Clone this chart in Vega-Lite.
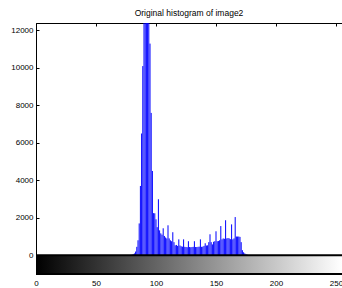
{
  "$schema": "https://vega.github.io/schema/vega-lite/v6.json",
  "width": 306,
  "height": 251,
  "autosize": {"type": "none"},
  "padding": {"left": 36, "top": 23, "right": 0, "bottom": 14},
  "background": "white",
  "title": {"text": "Original histogram of image2", "fontSize": 8.5, "font": "Liberation Sans", "fontWeight": "normal", "offset": 5, "color": "black"},
  "config": {
    "view": {"stroke": "black", "strokeWidth": 1},
    "axis": {"grid": false, "domainColor": "black", "tickColor": "black", "labelColor": "black", "labelFont": "Liberation Sans", "labelFontSize": 8, "tickSize": -3, "title": null}
  },
  "data": {"values": [
    {"v": 79, "count": 20}, {"v": 80, "count": 30}, {"v": 81, "count": 60}, {"v": 82, "count": 100}, {"v": 83, "count": 200},
    {"v": 84, "count": 450}, {"v": 85, "count": 800}, {"v": 86, "count": 1700}, {"v": 87, "count": 3700}, {"v": 88, "count": 6500},
    {"v": 89, "count": 10100}, {"v": 90, "count": 14000}, {"v": 91, "count": 15000}, {"v": 92, "count": 16000}, {"v": 93, "count": 15000},
    {"v": 94, "count": 14000}, {"v": 95, "count": 11300}, {"v": 96, "count": 7600}, {"v": 97, "count": 4500}, {"v": 98, "count": 2250},
    {"v": 99, "count": 2240}, {"v": 100, "count": 1920}, {"v": 101, "count": 1500}, {"v": 102, "count": 2990}, {"v": 103, "count": 1330},
    {"v": 104, "count": 1170}, {"v": 105, "count": 1100}, {"v": 106, "count": 1440}, {"v": 107, "count": 1030}, {"v": 108, "count": 950},
    {"v": 109, "count": 900}, {"v": 110, "count": 1600}, {"v": 111, "count": 900}, {"v": 112, "count": 800}, {"v": 113, "count": 750},
    {"v": 114, "count": 1230}, {"v": 115, "count": 700}, {"v": 116, "count": 530}, {"v": 117, "count": 550}, {"v": 118, "count": 500},
    {"v": 119, "count": 850}, {"v": 120, "count": 520}, {"v": 121, "count": 480}, {"v": 122, "count": 460}, {"v": 123, "count": 850},
    {"v": 124, "count": 450}, {"v": 125, "count": 440}, {"v": 126, "count": 430}, {"v": 127, "count": 750}, {"v": 128, "count": 440},
    {"v": 129, "count": 430}, {"v": 130, "count": 440}, {"v": 131, "count": 450}, {"v": 132, "count": 750}, {"v": 133, "count": 440},
    {"v": 134, "count": 440}, {"v": 135, "count": 450}, {"v": 136, "count": 460}, {"v": 137, "count": 850}, {"v": 138, "count": 450},
    {"v": 139, "count": 460}, {"v": 140, "count": 500}, {"v": 141, "count": 640}, {"v": 142, "count": 520}, {"v": 143, "count": 530},
    {"v": 144, "count": 700}, {"v": 145, "count": 1120}, {"v": 146, "count": 700}, {"v": 147, "count": 580}, {"v": 148, "count": 720},
    {"v": 149, "count": 750}, {"v": 150, "count": 1280}, {"v": 151, "count": 750}, {"v": 152, "count": 760}, {"v": 153, "count": 800},
    {"v": 154, "count": 1560}, {"v": 155, "count": 850}, {"v": 156, "count": 900}, {"v": 157, "count": 880}, {"v": 158, "count": 1870},
    {"v": 159, "count": 900}, {"v": 160, "count": 920}, {"v": 161, "count": 900}, {"v": 162, "count": 860}, {"v": 163, "count": 1650},
    {"v": 164, "count": 850}, {"v": 165, "count": 900}, {"v": 166, "count": 2040}, {"v": 167, "count": 1000}, {"v": 168, "count": 1000},
    {"v": 169, "count": 1000}, {"v": 170, "count": 980}, {"v": 171, "count": 700}, {"v": 172, "count": 270}, {"v": 173, "count": 160},
    {"v": 174, "count": 100}, {"v": 175, "count": 60}, {"v": 176, "count": 30}
  ]},
  "resolve": {"axis": {"x": "independent"}},
  "layer": [
    {
      "mark": {"type": "rule", "color": "#0000ff", "strokeWidth": 1, "clip": true},
      "encoding": {
        "x": {"field": "v", "type": "quantitative", "scale": {"domain": [0, 255], "nice": false, "zero": false},
              "axis": {"orient": "bottom", "values": [0, 50, 100, 150, 200, 250], "format": "d", "labelPadding": 8, "labelFlush": false, "labelOverlap": false}},
        "y": {"field": "count", "type": "quantitative", "scale": {"domain": [-1000, 12400], "nice": false, "zero": false},
              "axis": {"values": [0, 2000, 4000, 6000, 8000, 10000, 12000], "format": "d", "labelPadding": 6, "labelOverlap": false}},
        "y2": {"datum": 0}
      }
    },
    {
      "data": {"values": [{}]},
      "mark": {"type": "rect", "color": {"gradient": "linear", "x1": 0, "x2": 1, "y1": 0, "y2": 0, "stops": [{"offset": 0, "color": "black"}, {"offset": 1, "color": "white"}]}},
      "encoding": {
        "x": {"datum": 0, "type": "quantitative", "axis": {"orient": "top", "values": [0, 50, 100, 150, 200, 250], "labels": false, "domain": false}},
        "x2": {"datum": 255},
        "y": {"datum": 0},
        "y2": {"datum": -1000}
      }
    },
    {
      "data": {"values": [{}]},
      "mark": {"type": "rule", "color": "black", "strokeWidth": 2},
      "encoding": {"y": {"datum": 0}}
    },
    {
      "data": {"values": [{}]},
      "mark": {"type": "rule", "color": "black", "strokeWidth": 2},
      "encoding": {"y": {"datum": -1000}}
    }
  ]
}
